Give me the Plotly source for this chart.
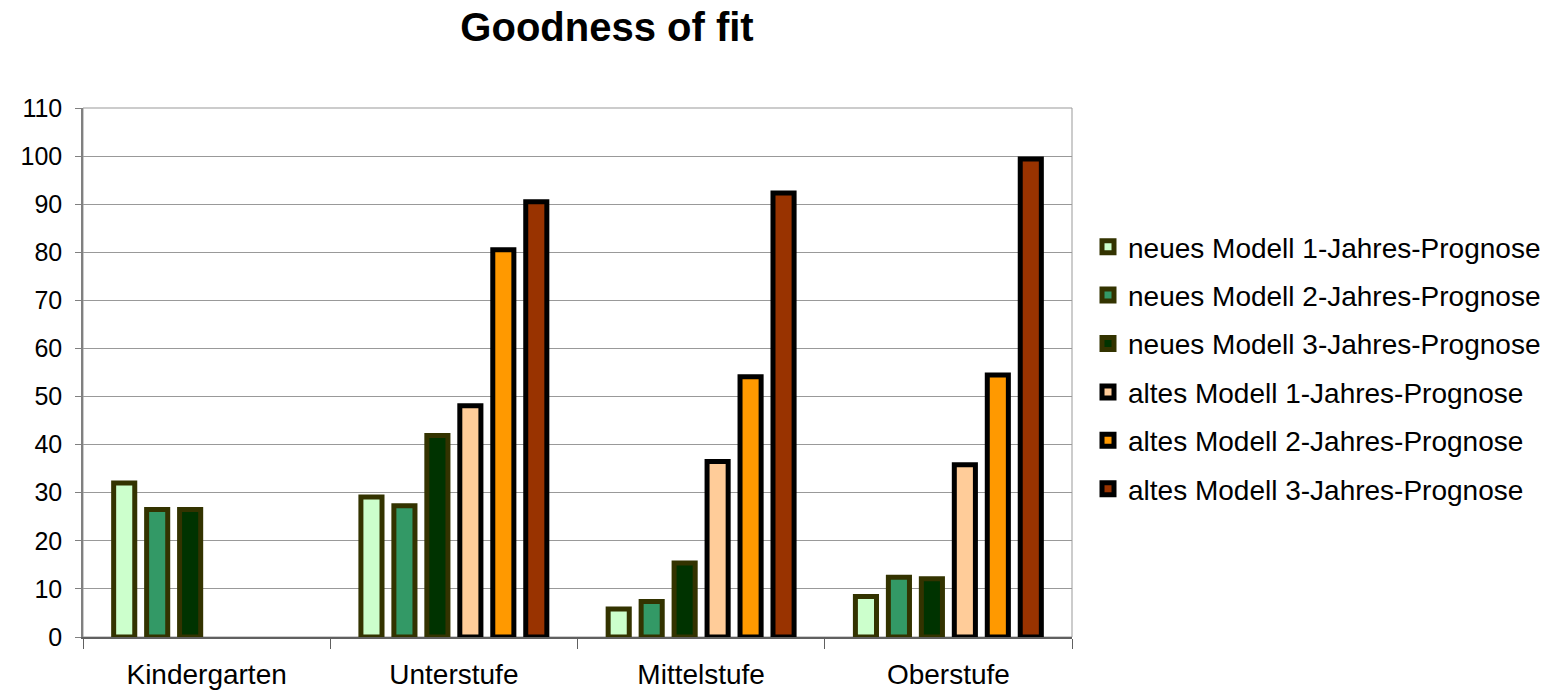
import plotly.graph_objects as go

categories = ["Kindergarten", "Unterstufe", "Mittelstufe", "Oberstufe"]

series_names = [
    "neues Modell 1-Jahres-Prognose",
    "neues Modell 2-Jahres-Prognose",
    "neues Modell 3-Jahres-Prognose",
    "altes Modell 1-Jahres-Prognose",
    "altes Modell 2-Jahres-Prognose",
    "altes Modell 3-Jahres-Prognose",
]

neu_1 = [32.0, 29.1, 5.8, 8.4]
neu_2 = [26.5, 27.3, 7.4, 12.4]
neu_3 = [26.5, 41.9, 15.4, 12.1]
alt_1 = [None, 48.1, 36.5, 35.8]
alt_2 = [None, 80.5, 54.1, 54.5]
alt_3 = [None, 90.5, 92.3, 99.4]

fill_colors = ["#CCFFCC", "#339966", "#003300", "#FFCC99", "#FF9900", "#993300"]
edge_colors = ["#333300", "#333300", "#333300", "#000000", "#000000", "#000000"]

y_ticks = list(range(0, 111, 10))

FONT = "Liberation Sans, Arial, sans-serif"

fig = go.Figure()
for name, vals, fc, ec in zip(series_names, [neu_1, neu_2, neu_3, alt_1, alt_2, alt_3],
                              fill_colors, edge_colors):
    fig.add_trace(go.Bar(
        x=categories, y=vals, name=name, legendgroup=name,
        marker=dict(color=fc, line=dict(color=ec, width=5)),
    ))

fig.update_layout(
    width=1559, height=693,
    paper_bgcolor="white", plot_bgcolor="white",
    margin=dict(l=83, r=487, t=108, b=56),
    barmode="group", bargap=0.2, bargroupgap=0.36,
    font=dict(family=FONT, size=25, color="black"),
    title=dict(text="<b>Goodness of fit</b>", x=607 / 1559, xref="container",
               xanchor="center", y=1 - 27 / 693, yanchor="middle",
               font=dict(family=FONT, size=40, color="black")),
    legend=dict(x=1088 / 1559, xref="container", xanchor="left",
                y=(637 - 368) / 529, yanchor="middle", tracegroupgap=9,
                font=dict(family=FONT, size=28, color="black"),
                bgcolor="rgba(0,0,0,0)", itemwidth=30),
    showlegend=True,
)
fig.update_yaxes(range=[0, 110], tickvals=y_ticks, showgrid=True, gridcolor="#999999",
                 gridwidth=1, showline=True, linecolor="#808080", linewidth=1.5,
                 ticks="outside", ticklen=6, tickcolor="#808080", zeroline=False,
                 mirror=False, tickfont=dict(size=25), ticklabelstandoff=8,
                 automargin=False)
fig.update_xaxes(showline=True, linecolor="#606060", linewidth=1.5, ticks="outside",
                 tickson="boundaries", ticklen=10, tickcolor="#606060",
                 showgrid=False, tickfont=dict(size=28), ticklabelstandoff=12,
                 automargin=False)
# light frame around the plotting area
fig.add_shape(type="rect", xref="paper", yref="paper", x0=0, x1=1, y0=0, y1=1,
              line=dict(color="#999999", width=1), layer="below")

fig.write_html("out.html")
